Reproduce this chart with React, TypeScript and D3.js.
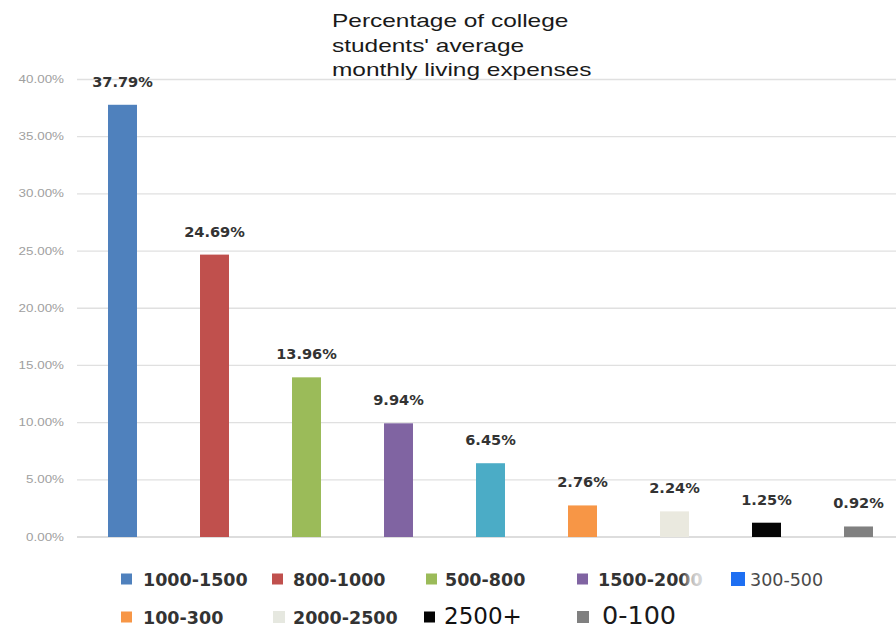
import React from "react";
import * as d3 from "d3";

// Monthly living expense brackets (CNY) and share of students in each
const categories = [
  "1000-1500",
  "800-1000",
  "500-800",
  "1500-2000",
  "300-500",
  "100-300",
  "2000-2500",
  "2500+",
  "0-100",
];
const shares = [37.79, 24.69, 13.96, 9.94, 6.45, 2.76, 2.24, 1.25, 0.92];
const barColors = [
  "#4F81BD",
  "#C0504D",
  "#9BBB59",
  "#8064A2",
  "#4BACC6",
  "#F79646",
  "#EAE9DF",
  "#050505",
  "#808080",
];
const swatchColors = [
  "#4F81BD",
  "#C0504D",
  "#9BBB59",
  "#8064A2",
  "#1E6FF2",
  "#F79646",
  "#E6E8E0",
  "#050505",
  "#808080",
];
const yTicks = [0, 5, 10, 15, 20, 25, 30, 35, 40];
const titleLines = [
  "Percentage of college",
  "students' average",
  "monthly living expenses",
];

const W = 896;
const H = 630;

// Legend placement and text style for each bracket (same order as categories)
const legendLayout = [
  { x: 121, row: 0, size: 11, weight: 700, fs: 17.5, fill: "#333333", tx: 143 },
  { x: 272, row: 0, size: 11, weight: 700, fs: 17.5, fill: "#333333", tx: 293 },
  { x: 426, row: 0, size: 11, weight: 700, fs: 17.5, fill: "#333333", tx: 445 },
  { x: 577, row: 0, size: 11, weight: 700, fs: 17.5, fill: "#333333", tx: 598 },
  { x: 731, row: 0, size: 14, weight: 400, fs: 17.5, fill: "#4a4a4a", tx: 750 },
  { x: 121, row: 1, size: 11, weight: 700, fs: 17.5, fill: "#333333", tx: 143 },
  { x: 273, row: 1, size: 12, weight: 700, fs: 17.5, fill: "#333333", tx: 293 },
  { x: 424, row: 1, size: 11, weight: 400, fs: 23, fill: "#111111", tx: 444 },
  { x: 577, row: 1, size: 12, weight: 400, fs: 25.5, fill: "#1a1a1a", tx: 602 },
];

// Text drawn with a horizontal stretch factor
function Stretched({ x, y, children, anchor = "start", sx = 1, ...rest }: any) {
  return (
    <g transform={`translate(${x},${y}) scale(${sx},1)`}>
      <text textAnchor={anchor} {...rest}>
        {children}
      </text>
    </g>
  );
}

export default function App() {
  const x = d3
    .scaleBand<string>()
    .domain(categories)
    .range([76.5, 904.5])
    .paddingInner(0.685)
    .paddingOuter(0.3425);
  const y = d3.scaleLinear().domain([0, 40]).range([537, 79.5]);
  const fmt = (v: number) => d3.format(".2f")(v) + "%";

  return (
    <svg
      width={W}
      height={H}
      style={{ position: "absolute", left: 0, top: 0, background: "#fff" }}
    >
      <defs>
        <filter id="soft" x="-50%" y="-50%" width="200%" height="200%">
          <feGaussianBlur stdDeviation="4" />
        </filter>
      </defs>
      <rect width={W} height={H} fill="#fff" />

      {/* horizontal gridlines */}
      {yTicks.map((t) => (
        <line
          key={"g" + t}
          x1={77}
          x2={W}
          y1={y(t)}
          y2={y(t)}
          stroke={t === 0 ? "#d2d2d2" : "#e0e0e0"}
          strokeWidth={1.3}
        />
      ))}

      {/* y tick labels */}
      {yTicks.map((t) => (
        <Stretched
          key={"t" + t}
          x={64}
          y={y(t) + 3.5}
          anchor="end"
          sx={1.3}
          fontFamily="Liberation Sans, Arial, sans-serif"
          fontSize={10.3}
          fill="#a0a0a0"
        >
          {d3.format(".2f")(t) + "%"}
        </Stretched>
      ))}

      {/* bars */}
      {categories.map((c, i) => (
        <rect
          key={"b" + c}
          x={x(c)}
          y={y(shares[i])}
          width={x.bandwidth()}
          height={y(0) - y(shares[i])}
          fill={barColors[i]}
        />
      ))}

      {/* value labels */}
      {categories.map((c, i) => (
        <Stretched
          key={"v" + c}
          x={(x(c) as number) + x.bandwidth() / 2}
          y={y(shares[i]) - 18}
          anchor="middle"
          sx={1.08}
          fontFamily="DejaVu Sans, sans-serif"
          fontWeight={700}
          fontSize={13.5}
          fill="#333"
        >
          {fmt(shares[i])}
        </Stretched>
      ))}

      {/* title */}
      {titleLines.map((line, i) => (
        <Stretched
          key={"h" + i}
          x={332}
          y={27 + i * 24.5}
          sx={1.3}
          fontFamily="Liberation Sans, Arial, sans-serif"
          fontSize={18.8}
          fill="#1a1a1a"
        >
          {line}
        </Stretched>
      ))}

      {/* legend */}
      {categories.map((c, i) => {
        const L = legendLayout[i];
        const base = L.row === 0 ? 586 : 624;
        return (
          <g key={"l" + c}>
            <rect
              x={L.x}
              y={base - 7 - L.size / 2}
              width={L.size}
              height={L.size}
              fill={swatchColors[i]}
            />
            <text
              x={L.tx}
              y={base}
              fontFamily="DejaVu Sans, sans-serif"
              fontWeight={L.weight}
              fontSize={L.fs}
              fill={L.fill}
            >
              {c}
            </text>
          </g>
        );
      })}
      {/* faded patch over the end of the fourth legend entry */}
      <rect
        x={688}
        y={566}
        width={32}
        height={26}
        fill="#fff"
        opacity={0.8}
        filter="url(#soft)"
      />
    </svg>
  );
}
